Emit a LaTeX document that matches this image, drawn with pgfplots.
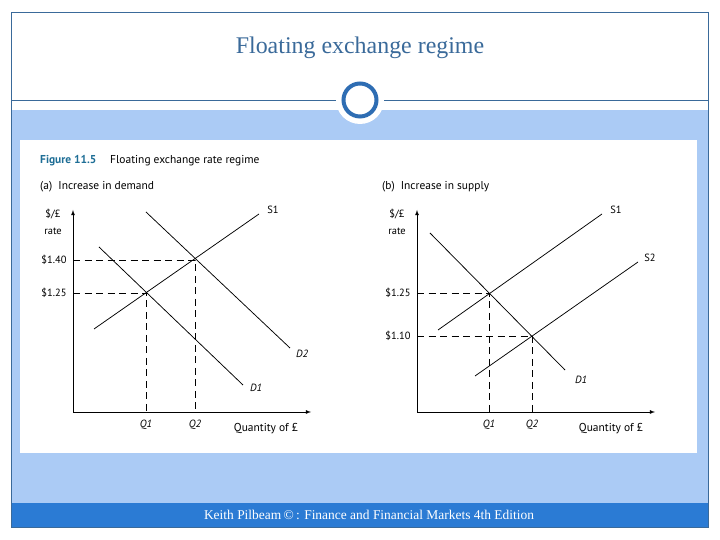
\documentclass[border=0pt]{standalone}
\usepackage{fontspec}
\setmainfont{Liberation Serif}
\newfontfamily\figfont{PT Sans}
\usepackage{pgfplots}
\pgfplotsset{compat=1.18}
\definecolor{slideblue}{HTML}{3A6A9A}
\definecolor{lightblue}{HTML}{ABCBF5}
\definecolor{footblue}{HTML}{2B7BD4}
\definecolor{ringblue}{HTML}{2E6DB3}
\definecolor{figteal}{HTML}{1E6E96}
\tikzset{lab/.style={font=\figfont\fontsize{10.5}{12}\selectfont}}
\begin{document}
\begin{tikzpicture}[x=1bp,y=1bp]
\useasboundingbox (0,0) rectangle (720,540);
\fill[white] (0,0) rectangle (720,540);
% slide background pieces
\fill[lightblue] (11,37) rectangle (708,430);
\fill[footblue] (11,13) rectangle (708,37);
\fill[white] (20,87) rectangle (697,400);
\draw[slideblue, line width=0.8bp] (11,13) rectangle (708,528);
\draw[slideblue, line width=0.8bp] (11,440) -- (708,440);
\fill[white] (360,440) circle (24);
\draw[ringblue, line width=4bp, fill=white] (360,440) circle (16.5);
\node[text=slideblue, font=\fontsize{24}{28}\selectfont] at (360,492) {Floating exchange regime};
\node[text=white, font=\fontsize{13.5}{16}\selectfont] at (369,25) {Keith Pilbeam\,©\,: Finance and Financial Markets 4th Edition};
% figure headings
\node[anchor=west, inner sep=0, font=\figfont\fontsize{11.5}{13}\selectfont\bfseries, text=figteal] at (40,379) {Figure 11.5};
\node[anchor=west, inner sep=0, font=\figfont\fontsize{11.5}{13}\selectfont] at (110,379) {Floating exchange rate regime};
\node[anchor=west, inner sep=0, font=\figfont\fontsize{11.5}{13}\selectfont] at (40,353) {(a)\ \ Increase in demand};
\node[anchor=west, inner sep=0, font=\figfont\fontsize{11.5}{13}\selectfont] at (382,353) {(b)\ \ Increase in supply};
% axis labels
\node[lab] at (53,326) {\$/£};
\node[lab] at (53,309) {rate};
\node[lab] at (397,326) {\$/£};
\node[lab] at (397,309) {rate};
\node[font=\figfont\fontsize{11.5}{13}\selectfont] at (266,111) {Quantity of £};
\node[font=\figfont\fontsize{11.5}{13}\selectfont] at (611,111) {Quantity of £};
\pgfplotsset{
  diag/.style={
    at={(#1)}, anchor=south west, x=1bp, y=1bp,
    xmin=0, xmax=238, ymin=0, ymax=202,
    axis lines=left, axis line style={-latex, line width=0.8bp},
    major tick length=0, clip=false,
    tick label style={font=\figfont\fontsize{10.5}{12}\selectfont},
    x tick label style={yshift=-5bp},
    y tick label style={xshift=-3bp},
  },
  curve/.style={black, line width=0.75bp, no marks},
  guide/.style={black, line width=0.75bp, dash pattern=on 7bp off 4.5bp, no marks},
}
% (a) increase in demand
\begin{axis}[diag={73,128},
  xtick={73,122}, xticklabels={\textit{Q1},\textit{Q2}},
  ytick={119,152}, yticklabels={\$1.25,\$1.40}]
\addplot[curve] coordinates {(21,83) (186,198)};
\addplot[curve] coordinates {(26,165) (170,27)};
\addplot[curve] coordinates {(73,200) (217,64)};
\addplot[guide] coordinates {(0,119) (73,119) (73,0)};
\addplot[guide] coordinates {(0,152) (122,152) (122,0)};
\node[lab] at (axis cs:200,202) {S1};
\node[lab] at (axis cs:229,58) {\textit{D2}};
\node[lab] at (axis cs:183,24) {\textit{D1}};
\end{axis}
% (b) increase in supply
\begin{axis}[diag={417,128},
  xtick={72,115}, xticklabels={\textit{Q1},\textit{Q2}},
  ytick={76,119}, yticklabels={\$1.10,\$1.25}]
\addplot[curve] coordinates {(21,82) (185,198)};
\addplot[curve] coordinates {(58,36) (221,150)};
\addplot[curve] coordinates {(13,179) (148,42)};
\addplot[guide] coordinates {(0,119) (72,119) (72,0)};
\addplot[guide] coordinates {(0,76) (115,76) (115,0)};
\node[lab] at (axis cs:199,202) {S1};
\node[lab] at (axis cs:233,154) {S2};
\node[lab] at (axis cs:164,32) {\textit{D1}};
\end{axis}
\end{tikzpicture}
\end{document}
